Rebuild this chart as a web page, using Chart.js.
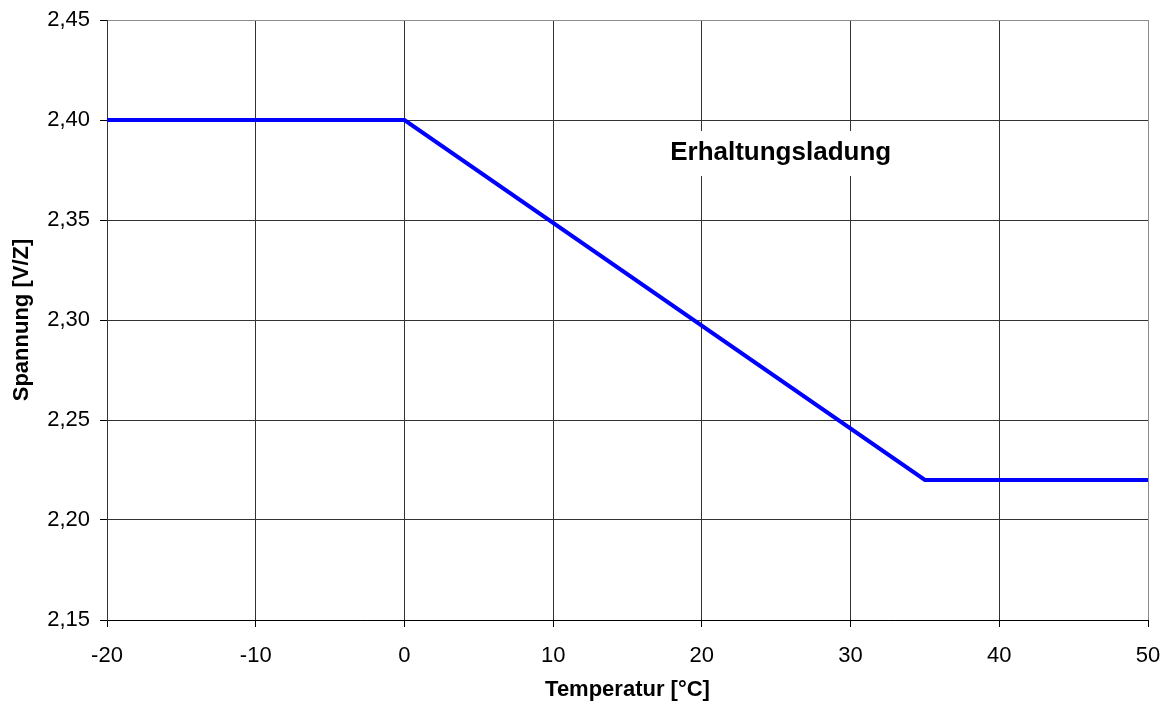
<!DOCTYPE html>
<html>
<head>
<meta charset="utf-8">
<script src="https://cdn.jsdelivr.net/npm/chart.js@4.4.0/dist/chart.umd.min.js"></script>
<style>
html,body{margin:0;padding:0;background:#fff;}
#wrap{width:1171px;height:707px;}
</style>
</head>
<body>
<div id="wrap"><canvas id="c" width="1171" height="707"></canvas></div>
<script>
const temperatures = [-20, 0, 35, 50];
const voltages = [2.40, 2.40, 2.22, 2.22];
const xTicks = [-20, -10, 0, 10, 20, 30, 40, 50];
const yTicks = [2.15, 2.20, 2.25, 2.30, 2.35, 2.40, 2.45];
const seriesLabel = 'Erhaltungsladung';
const xTitle = 'Temperatur [°C]';
const yTitle = 'Spannung [V/Z]';

const FONT = '"Liberation Sans", Arial, sans-serif';

const annotationPlugin = {
  id: 'seriesLabel',
  beforeDatasetsDraw(chart) {
    const ctx = chart.ctx;
    const xs = chart.scales.x, ys = chart.scales.y;
    const cx = xs.getPixelForValue(25.3);
    const cy = ys.getPixelForValue(2.3835);
    ctx.save();
    ctx.font = 'bold 26px ' + FONT;
    const w = ctx.measureText(seriesLabel).width;
    ctx.fillStyle = '#fff';
    ctx.fillRect(cx - w/2 - 6, cy - 22, w + 12, 45);
    ctx.fillStyle = '#000';
    ctx.textAlign = 'center';
    ctx.textBaseline = 'middle';
    ctx.fillText(seriesLabel, cx, cy);
    ctx.restore();
  }
};

new Chart(document.getElementById('c'), {
  type: 'line',
  data: {
    datasets: [{
      label: seriesLabel,
      data: temperatures.map((t, i) => ({x: t, y: voltages[i]})),
      borderColor: '#0000FF',
      borderWidth: 4,
      pointRadius: 0,
      fill: false,
      tension: 0
    }]
  },
  options: {
    responsive: false,
    animation: false,
    layout: {padding: {top: 20, right: 23, left: 0, bottom: 0}},
    plugins: {legend: {display: false}, tooltip: {enabled: false}},
    scales: {
      x: {
        type: 'linear',
        min: -20, max: 50,
        afterBuildTicks: s => { s.ticks = xTicks.map(v => ({value: v})); },
        afterFit: s => { s.height = 87; s.paddingLeft = 0; s.paddingRight = 0; },
        ticks: {
          font: {family: FONT, size: 22},
          color: '#000',
          padding: 16,
          maxRotation: 0,
          callback: v => String(v)
        },
        grid: {
          color: ctx => (ctx.index === xTicks.length - 1 ? '#8c8c8c' : '#333'),
          tickColor: '#000',
          tickLength: 7,
          lineWidth: 1
        },
        border: {color: '#000', width: 1},
        title: {
          display: true, text: xTitle, color: '#000',
          font: {family: FONT, size: 22, weight: 'bold'},
          padding: {top: 0, bottom: 4}
        }
      },
      y: {
        type: 'linear',
        min: 2.15, max: 2.45,
        afterBuildTicks: s => { s.ticks = yTicks.map(v => ({value: v})); },
        afterFit: s => { s.width = 107; s.paddingTop = 0; s.paddingBottom = 0; },
        ticks: {
          font: {family: FONT, size: 22},
          color: '#000',
          padding: 10,
          callback: v => Number(v).toFixed(2).replace('.', ',')
        },
        grid: {
          color: ctx => (ctx.index === yTicks.length - 1 ? '#8c8c8c' : '#333'),
          tickColor: '#000',
          tickLength: 7,
          lineWidth: 1
        },
        border: {color: '#333', width: 1},
        title: {
          display: true, text: yTitle, color: '#000',
          font: {family: FONT, size: 22, weight: 'bold'},
          padding: {top: 9, bottom: 0}
        }
      }
    }
  },
  plugins: [annotationPlugin]
});
</script>
</body>
</html>
